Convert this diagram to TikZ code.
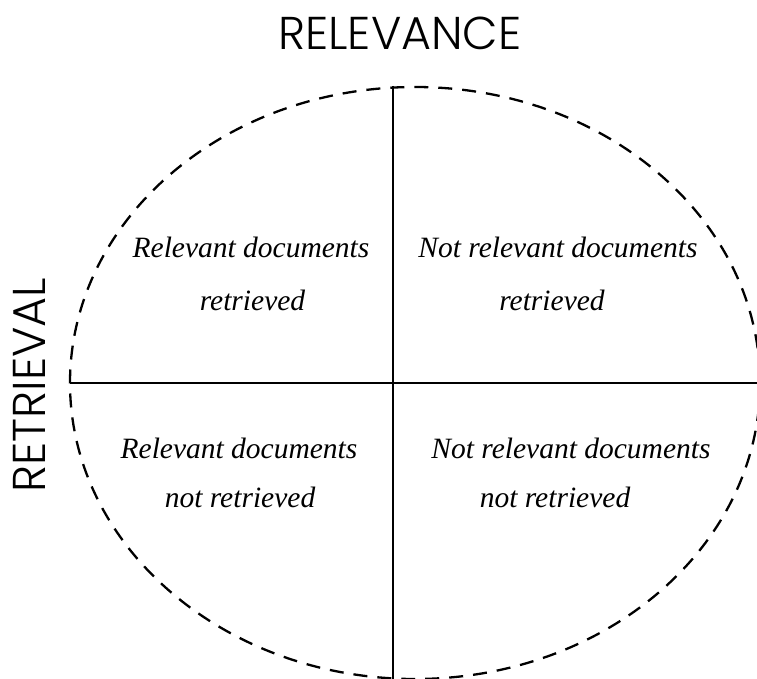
\documentclass[tikz,border=0pt]{standalone}
\usepackage{fontspec}
\setmainfont{Liberation Serif}
\newfontfamily\headfont{Poppins Light}
\begin{document}
\begin{tikzpicture}[x=1pt,y=-1pt,
  quadtext/.style={font=\fontsize{29.5}{35}\selectfont\itshape, inner sep=0pt, anchor=base},
  axislabel/.style={font=\headfont\fontsize{46}{50}\selectfont, inner sep=0pt},
  border/.style={line width=2.3pt, dash pattern=on 14pt off 10pt},
  divider/.style={line width=2.6pt}]
  \useasboundingbox (0,0) rectangle (757,679);
  % outer dashed boundary
  \draw[border] (415,383) ellipse [x radius=345, y radius=296];
  % dividing axes
  \coordinate (top) at (393,86);
  \coordinate (bottom) at (393,690);
  \coordinate (left) at (70,383);
  \coordinate (right) at (770,383);
  \draw[divider] (top) -- (bottom);
  \draw[divider] (left) -- (right);
  % axis titles
  \node[axislabel] (relevance) at (400,33.5) {RELEVANCE};
  \node[axislabel, rotate=90] (retrieval) at (29.5,385) {RETRIEVAL};
  % quadrant captions
  \node[quadtext] (q1a) at (251,257) {Relevant documents};
  \node[quadtext] (q1b) at (252.5,310) {retrieved};
  \node[quadtext] (q2a) at (558,257) {Not relevant documents};
  \node[quadtext] (q2b) at (552,310) {retrieved};
  \node[quadtext] (q3a) at (239,458) {Relevant documents};
  \node[quadtext] (q3b) at (240,507) {not retrieved};
  \node[quadtext] (q4a) at (571,458) {Not relevant documents};
  \node[quadtext] (q4b) at (555,507) {not retrieved};
\end{tikzpicture}
\end{document}
